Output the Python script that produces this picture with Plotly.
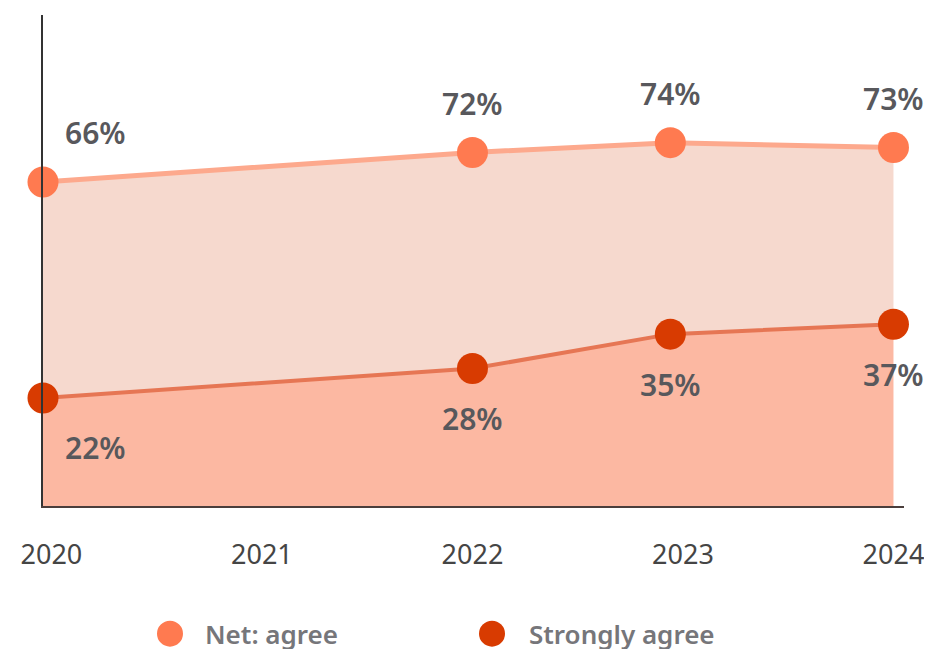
import plotly.graph_objects as go

# survey waves (fractional years as placed on the time axis)
waves = [2019.96, 2022.0, 2022.94, 2024.0]
net_agree = [66, 72, 74, 73]
strongly_agree = [22, 28, 35, 37]
tick_years = [2020, 2021, 2022, 2023, 2024]
tick_labels = ["2020", "2021", "2022", "2023", "2024"]
series_names = ["Net: agree", "Strongly agree"]

NET_LINE = "#FDA98D"
NET_MARK = "#FF7A50"
NET_FILL = "#F6D9CE"
STR_LINE = "#E67654"
STR_MARK = "#D83B01"
STR_FILL = "#FCB8A2"
LABEL_FONT = dict(family="Noto Sans", size=30, color="#58585C", weight=600)

fig = go.Figure()
fig.add_trace(go.Scatter(
    x=waves, y=strongly_agree, mode="lines+markers", name=series_names[1],
    line=dict(color=STR_LINE, width=4), fill="tozeroy", fillcolor=STR_FILL,
    marker=dict(size=31, color=STR_MARK), cliponaxis=False, showlegend=False,
))
fig.add_trace(go.Scatter(
    x=waves, y=net_agree, mode="lines+markers", name=series_names[0],
    line=dict(color=NET_LINE, width=5), fill="tonexty", fillcolor=NET_FILL,
    marker=dict(size=31, color=NET_MARK), cliponaxis=False, showlegend=False,
))

# value labels
for i, (xv, yv) in enumerate(zip(waves, net_agree)):
    fig.add_annotation(x=xv, y=yv, text=f"{yv}%", showarrow=False, font=LABEL_FONT,
                       xshift=52 if i == 0 else 0, yshift=49)
for i, (xv, yv) in enumerate(zip(waves, strongly_agree)):
    fig.add_annotation(x=xv, y=yv, text=f"{yv}%", showarrow=False, font=LABEL_FONT,
                       xshift=52 if i == 0 else 0, yshift=-50)

# hand-built legend (plotly caps legend marker size)
LEG_Y = -0.26
legend_items = [(series_names[0], NET_MARK, 0.1475, 0.1858),
                (series_names[1], STR_MARK, 0.5215, 0.5621)]
for name, col, mx, tx in legend_items:
    fig.add_shape(type="circle", xref="paper", yref="paper",
                  xsizemode="pixel", ysizemode="pixel", xanchor=mx, yanchor=LEG_Y,
                  x0=-13, x1=13, y0=-13, y1=13, fillcolor=col, line=dict(width=0))
    fig.add_annotation(x=tx, y=LEG_Y, xref="paper", yref="paper", text=name,
                       showarrow=False, xanchor="left", yanchor="middle", height=30,
                       font=dict(family="Noto Sans", size=26, color="#76767A", weight=600))

# page body adds an 8px offset; the figure runs slightly past the window bottom
fig.update_layout(
    width=924, height=652,
    margin=dict(l=35, r=28, t=7, b=154),
    paper_bgcolor="white", plot_bgcolor="white",
    showlegend=False,
    xaxis=dict(range=[2019.96, 2024.05], tickvals=tick_years, ticktext=tick_labels,
               showgrid=False, zeroline=False, showline=True, linecolor="#4A3E3C", linewidth=2,
               ticks="", ticklabelstandoff=24,
               tickfont=dict(family="Noto Sans", size=27, color="#454545")),
    yaxis=dict(range=[0, 100], showgrid=False, zeroline=False, showticklabels=False,
               showline=True, linecolor="#333333", linewidth=1.5, ticks=""),
)

fig.write_html("out.html")
